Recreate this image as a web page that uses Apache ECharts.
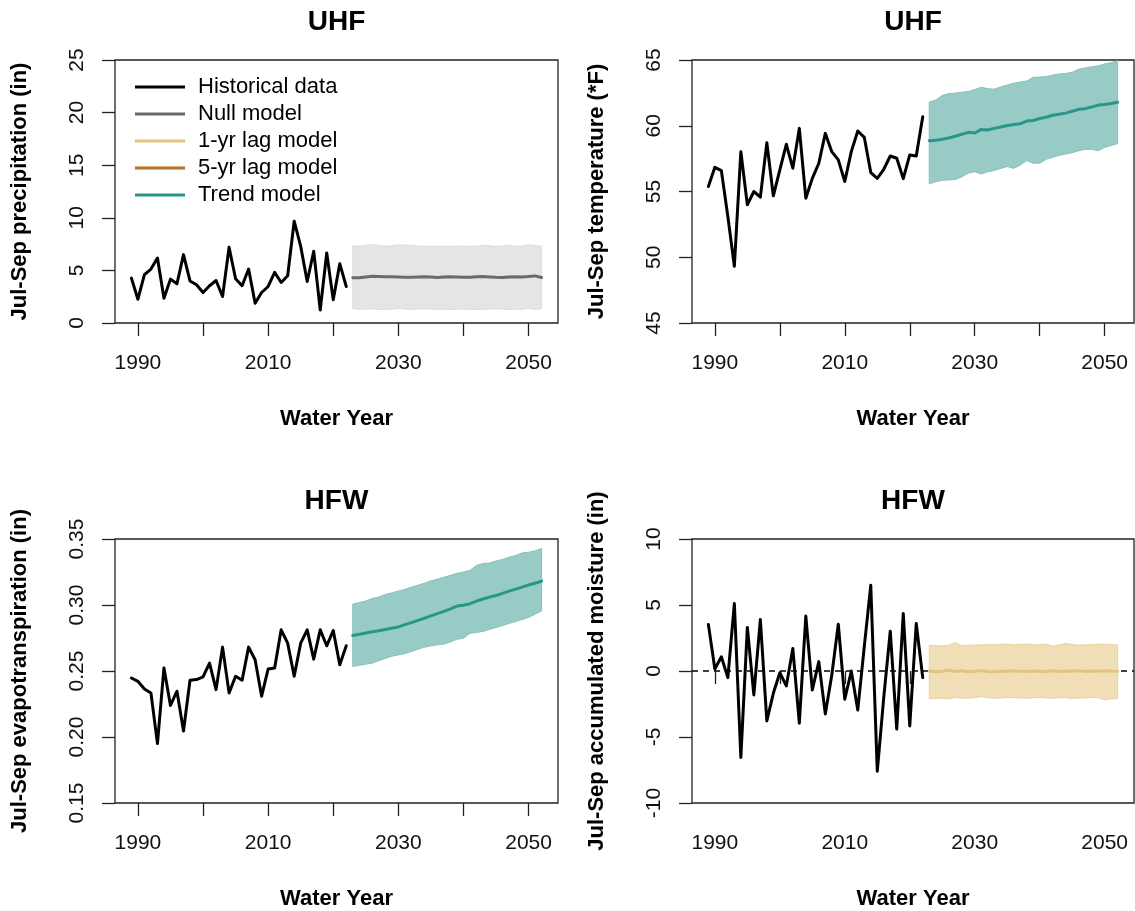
<!DOCTYPE html>
<html><head><meta charset="utf-8">
<script src="https://cdn.jsdelivr.net/npm/echarts@6/dist/echarts.min.js"></script>
<style>html,body{margin:0;padding:0;background:#fff}#c{width:1135px;height:911px}</style>
</head><body><div id="c"></div>
<script>
const histYears = [1989,1990,1991,1992,1993,1994,1995,1996,1997,1998,1999,2000,2001,2002,2003,2004,2005,2006,2007,2008,2009,2010,2011,2012,2013,2014,2015,2016,2017,2018,2019,2020,2021,2022];
const foreYears = [2023,2024,2025,2026,2027,2028,2029,2030,2031,2032,2033,2034,2035,2036,2037,2038,2039,2040,2041,2042,2043,2044,2045,2046,2047,2048,2049,2050,2051,2052];
const xTickValues = [1990,2000,2010,2020,2030,2040,2050];
const xLabelValues = [1990,2010,2030,2050];
const xRange = [1986.48, 2054.52];

// Panel 1: UHF precipitation
const precipHist = [4.27,2.26,4.59,5.13,6.18,2.36,4.17,3.73,6.5,4.0,3.63,2.9,3.54,4.04,2.52,7.2,4.2,3.54,5.13,1.88,2.9,3.47,4.81,3.85,4.49,9.68,7.29,3.95,6.82,1.24,6.66,2.2,5.64,3.47];
const precipNull = [4.31,4.30,4.38,4.45,4.42,4.40,4.40,4.38,4.36,4.35,4.38,4.40,4.37,4.33,4.38,4.40,4.38,4.36,4.35,4.40,4.42,4.38,4.34,4.32,4.38,4.40,4.38,4.41,4.48,4.33];
const precipUpper = [7.35,7.30,7.40,7.45,7.38,7.30,7.35,7.42,7.42,7.38,7.32,7.30,7.28,7.30,7.30,7.28,7.32,7.30,7.28,7.30,7.38,7.35,7.28,7.33,7.40,7.30,7.32,7.42,7.35,7.30];
const precipLower = [1.38,1.30,1.32,1.35,1.28,1.30,1.32,1.40,1.33,1.30,1.32,1.35,1.33,1.30,1.32,1.28,1.30,1.34,1.30,1.28,1.30,1.32,1.36,1.30,1.28,1.32,1.30,1.38,1.30,1.36];

// Panel 2: UHF temperature
const tempHist = [55.38,56.84,56.59,53.1,49.32,58.03,53.99,55.0,54.57,58.71,54.67,56.64,58.59,56.77,59.8,54.49,56.0,57.15,59.42,58.03,57.4,55.76,58.03,59.6,59.12,56.44,56.0,56.69,57.7,57.53,55.98,57.78,57.7,60.68];
const tempTrend = [58.86,58.9,58.97,59.07,59.2,59.35,59.5,59.45,59.72,59.68,59.8,59.9,60.02,60.1,60.15,60.36,60.4,60.55,60.65,60.8,60.88,60.96,61.1,61.25,61.3,61.42,61.57,61.62,61.7,61.78];
const tempUpper = [61.8,61.95,62.3,62.45,62.48,62.55,62.6,62.75,62.93,62.82,62.78,62.95,63.1,63.23,63.33,63.4,63.69,63.7,63.74,63.85,63.94,63.98,64.06,64.3,64.4,64.48,64.55,64.7,64.8,64.95];
const tempLower = [55.58,55.75,55.85,55.88,55.91,56.1,56.4,56.5,56.33,56.5,56.6,56.75,56.9,56.76,57.0,57.35,57.15,57.15,57.45,57.6,57.75,57.85,57.95,58.1,58.2,58.22,58.1,58.35,58.5,58.64];

// Panel 3: HFW evapotranspiration
const etHist = [0.2447,0.2422,0.2364,0.2334,0.195,0.2523,0.2239,0.2347,0.2045,0.243,0.2435,0.2455,0.256,0.2359,0.2681,0.2334,0.246,0.243,0.2681,0.2585,0.2309,0.2515,0.2523,0.2812,0.2711,0.246,0.2711,0.2812,0.259,0.2812,0.2691,0.2807,0.2548,0.2691];
const etTrend = [0.2769,0.2778,0.2788,0.2797,0.2805,0.2815,0.2824,0.2834,0.2851,0.2866,0.2884,0.2900,0.2917,0.2935,0.2952,0.2970,0.2992,0.2998,0.3010,0.3030,0.3045,0.3060,0.3072,0.3088,0.3105,0.3120,0.3135,0.3152,0.3165,0.3181];
const etUpper = [0.3007,0.3018,0.3030,0.3050,0.3060,0.3080,0.3092,0.3105,0.3118,0.3135,0.3150,0.3165,0.3183,0.3195,0.3210,0.3225,0.3239,0.3250,0.3262,0.3300,0.3314,0.3318,0.3334,0.3345,0.3362,0.3375,0.3394,0.3400,0.3410,0.3428];
const etLower = [0.2535,0.2543,0.2552,0.2560,0.2578,0.2595,0.2612,0.2622,0.2632,0.2648,0.2665,0.2680,0.2691,0.2698,0.2704,0.2720,0.2741,0.2748,0.2786,0.2792,0.2800,0.2815,0.2830,0.2845,0.2860,0.2875,0.2890,0.2905,0.2930,0.2955];

// Panel 4: HFW accumulated moisture
const moistHist = [3.53,0.15,1.08,-0.5,5.11,-6.55,3.3,-1.81,3.9,-3.78,-1.69,-0.13,-1.13,1.71,-3.95,4.16,-1.44,0.71,-3.25,-0.3,3.55,-2.14,0.0,-2.95,1.84,6.5,-7.6,-2.0,3.02,-4.4,4.36,-4.16,3.6,-0.5];
const moistLag = [0.0,-0.05,-0.02,0.05,-0.04,0.02,-0.06,-0.02,0.04,-0.03,-0.05,0.0,-0.03,0.02,-0.02,-0.04,0.0,-0.02,-0.05,0.02,-0.03,0.0,-0.02,0.03,-0.03,0.0,-0.02,0.01,-0.02,-0.01];
const moistUpper = [1.96,1.92,1.9,1.96,2.15,1.9,1.95,1.96,1.98,2.0,1.98,2.02,2.04,1.98,2.02,2.04,2.0,1.98,2.04,1.88,1.98,2.09,2.0,1.96,1.98,2.0,2.04,2.02,2.0,1.96];
const moistLower = [-2.1,-2.08,-2.06,-2.12,-2.0,-2.05,-2.06,-2.02,-1.94,-2.02,-2.06,-2.04,-2.0,-2.02,-2.05,-2.06,-2.03,-2.0,-2.04,-2.06,-2.03,-2.02,-2.08,-2.06,-2.04,-2.0,-2.03,-2.18,-2.1,-2.1];
const moistRef = [0, 0];

const titles = ['UHF','UHF','HFW','HFW'];
const yNames = ['Jul-Sep precipitation (in)','Jul-Sep temperature (*F)','Jul-Sep evapotranspiration (in)','Jul-Sep accumulated moisture (in)'];
const legendNames = ['Historical data','Null model','1-yr lag model','5-yr lag model','Trend model'];

const C = {hist:'#000000', nullLine:'#6a6a6a', nullBand:'#e5e5e5', nullEdge:'#dddddd',
  lag1Line:'#e3c47c', lag1Band:'#efdeb6', lag1Edge:'#ead3a0', lag5:'#b8732b',
  trendLine:'#28978a', trendBand:'#99cbc6', trendEdge:'#86c1bb'};
const FONT = '"Liberation Sans", Arial, Helvetica, sans-serif';

const grids = [
  {left:115, top:60, width:443, height:263},
  {left:692, top:60, width:442, height:263},
  {left:115, top:539, width:443, height:265},
  {left:692, top:539, width:442, height:265}
];
const yCfg = [
  {min:0, max:25, interval:5, fmt:v=>String(v)},
  {min:45, max:65, interval:5, fmt:v=>String(v)},
  {min:0.15, max:0.35, interval:0.05, fmt:v=>v.toFixed(2)},
  {min:-10, max:10, interval:5, fmt:v=>String(v)}
];

const pairs = (xs, ys) => xs.map((x,i)=>[x, ys[i]]);

const xAxes = grids.map((g,i)=>({
  type:'value', gridIndex:i, min:xRange[0], max:xRange[1],
  name:'Water Year', nameLocation:'middle', nameGap:85,
  nameTextStyle:{fontWeight:'bold', fontSize:22, color:'#000', fontFamily:FONT},
  axisLine:{show:false},
  axisTick:{show:true, length:13, customValues:xTickValues, lineStyle:{color:'#222', width:1.3}},
  axisLabel:{customValues:xLabelValues, fontSize:21, margin:30, color:'#111', fontFamily:FONT, formatter:v=>String(v)},
  splitLine:{show:false}
}));
const yAxes = grids.map((g,i)=>({
  type:'value', gridIndex:i, min:yCfg[i].min, max:yCfg[i].max, interval:yCfg[i].interval,
  name:yNames[i], nameLocation:'middle', nameGap:84,
  nameTextStyle:{fontWeight:'bold', fontSize:22, color:'#000', fontFamily:FONT},
  axisLine:{show:false},
  axisTick:{show:true, length:13, lineStyle:{color:'#222', width:1.3}},
  axisLabel:{rotate:90, fontSize:21, margin:27, color:'#111', fontFamily:FONT, formatter:yCfg[i].fmt},
  splitLine:{show:false}
}));

function lineSeries(name, gi, xs, ys, color, width, z, dash){
  return {type:'line', name:name, xAxisIndex:gi, yAxisIndex:gi, data:pairs(xs,ys),
    showSymbol:false, symbol:'none', silent:true, z:(z===undefined?3:z),
    itemStyle:{color:color}, lineStyle:{color:color, width:width||3, join:'round', cap:dash?'butt':'round', type:dash||'solid'}};
}
// Confidence band drawn as one polygon through the axis scales (api.coord)
function bandSeries(gi, lower, upper, fill, edge){
  const data = foreYears.map((x,i)=>[x, lower[i], upper[i]]);
  return {type:'custom', name:'band'+gi, xAxisIndex:gi, yAxisIndex:gi, silent:true, z:1,
    coordinateSystem:'cartesian2d', data:data,
    encode:{x:0, y:[1,2]},
    renderItem:function(params, api){
      if (params.dataIndex !== 0) return null;
      const top = data.map(d=>api.coord([d[0], d[2]]));
      const bot = data.map(d=>api.coord([d[0], d[1]])).reverse();
      return {type:'polygon', shape:{points: top.concat(bot)},
        style:{fill:fill, stroke:edge, lineWidth:1}};
    }};
}

const series = [
  bandSeries(0, precipLower, precipUpper, C.nullBand, C.nullEdge),
  lineSeries('Null model', 0, foreYears, precipNull, C.nullLine, 3),
  lineSeries('Historical data', 0, histYears, precipHist, C.hist, 3),
  {type:'line', name:'1-yr lag model', xAxisIndex:0, yAxisIndex:0, data:[], showSymbol:false,
    itemStyle:{color:C.lag1Line}, lineStyle:{color:C.lag1Line, width:3}},
  {type:'line', name:'5-yr lag model', xAxisIndex:0, yAxisIndex:0, data:[], showSymbol:false,
    itemStyle:{color:C.lag5}, lineStyle:{color:C.lag5, width:3}},
  bandSeries(1, tempLower, tempUpper, C.trendBand, C.trendEdge),
  lineSeries('Trend model', 1, foreYears, tempTrend, C.trendLine, 3),
  lineSeries('Historical data', 1, histYears, tempHist, C.hist, 3),
  bandSeries(2, etLower, etUpper, C.trendBand, C.trendEdge),
  lineSeries('Trend model', 2, foreYears, etTrend, C.trendLine, 3),
  lineSeries('Historical data', 2, histYears, etHist, C.hist, 3),
  lineSeries('zero', 3, xRange, moistRef, '#000', 1.4, 0, [6,5]),
  bandSeries(3, moistLower, moistUpper, C.lag1Band, C.lag1Edge),
  lineSeries('1-yr lag model', 3, foreYears, moistLag, C.lag1Line, 3),
  lineSeries('Historical data', 3, histYears, moistHist, C.hist, 3)
];

const titleX = grids.map(g=>g.left + g.width/2);
const titleY = [22, 22, 501, 501];
const graphic = titles.map((t,i)=>({type:'text', x:titleX[i], y:titleY[i], silent:true,
  style:{text:t, font:'bold 28px ' + FONT, fill:'#000', textAlign:'center', verticalAlign:'middle'}}));

const chart = echarts.init(document.getElementById('c'), null, {renderer:'canvas'});
chart.setOption({
  animation:false,
  backgroundColor:'#fff',
  textStyle:{fontFamily:FONT},
  grid: grids.map(g=>Object.assign({show:true, borderColor:'#222', borderWidth:1.3, backgroundColor:'transparent', containLabel:false}, g)),
  xAxis: xAxes,
  yAxis: yAxes,
  legend:{
    left:135, top:76, orient:'vertical', padding:0, itemGap:5, itemWidth:50, itemHeight:3,
    selectedMode:false,
    textStyle:{fontSize:22, color:'#000', fontFamily:FONT, padding:[0,0,0,8]},
    data: legendNames.map((n,i)=>({name:n, icon:'rect',
      itemStyle:{color:[C.hist,C.nullLine,C.lag1Line,C.lag5,C.trendLine][i]}}))
  },
  graphic: graphic,
  series: series
});
</script>
</body></html>
